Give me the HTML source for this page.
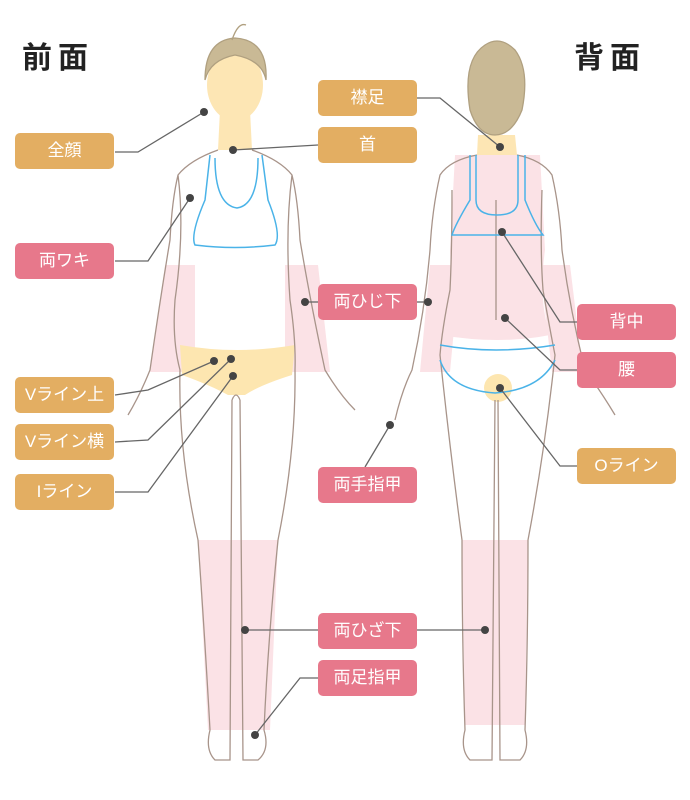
<!DOCTYPE html>
<html><head><meta charset="utf-8"><style>
html,body{margin:0;padding:0;background:#fff;}
body{width:690px;height:800px;overflow:hidden;position:relative;font-family:"Liberation Sans","Noto Sans CJK JP",sans-serif;}
.t{position:absolute;font-size:30px;font-weight:bold;color:#222;letter-spacing:6px;}
.l{position:absolute;width:99px;height:36px;border-radius:5px;color:#fff;font-size:17px;line-height:36px;text-align:center;}
.o{background:#e3ae62}.p{background:#e7788b}
svg{position:absolute;left:0;top:0}
</style></head><body>
<svg width="690" height="800" viewBox="0 0 690 800">
<g fill="none" stroke="#a8948a" stroke-width="1.3">
<!-- FRONT -->
<path d="M165,265 L195,265 L195,372 L150,372 Z" fill="#fbe2e6" stroke="none"/>
<path d="M285,265 L318,265 L330,372 L285,372 Z" fill="#fbe2e6" stroke="none"/>
<path d="M198,540 L278,540 L270,730 L208,730 Z" fill="#fbe2e6" stroke="none"/>
<path d="M180,345 Q237,355 295,345 L292,375 Q260,385 245,395 L228,395 Q210,385 182,375 Z" fill="#fde6b0" stroke="none"/>
<path d="M220,110 L250,110 L252,150 L218,150 Z" fill="#fde6b4" stroke="none"/>
<ellipse cx="235" cy="85" rx="28" ry="36" fill="#fde6b4" stroke="none"/>
<path d="M205,80 Q205,40 235,38 Q268,40 266,80 Q262,60 235,55 Q210,60 205,80 Z" fill="#c9b995" stroke="#b0a080"/>
<path d="M232,40 Q238,22 246,25" stroke="#b0a080"/>
<path d="M218,150 Q190,160 178,175 Q172,200 170,240 Q160,300 150,370 Q140,395 128,415 M178,175 Q185,230 175,300 Q172,340 180,370 Q178,450 198,540 Q205,640 210,730 Q205,750 215,760 L230,760 L232,400 M252,150 Q280,160 292,175 Q298,200 300,240 Q310,300 325,370 Q340,395 355,410 M292,175 Q285,230 290,300 Q296,340 295,370 Q296,450 278,540 Q268,640 264,730 Q270,750 258,760 L243,760 L240,400 M232,400 Q236,390 240,400"/>
<path d="M210,155 L205,200 Q190,235 195,245 Q235,250 275,245 Q282,235 268,200 L262,155 M215,158 Q215,205 237,208 Q258,205 258,158" stroke="#4ab3e8" stroke-width="1.5"/>
<!-- BACK -->
<path d="M430,265 L460,265 L450,372 L420,372 Z" fill="#fbe2e6" stroke="none"/>
<path d="M540,265 L570,265 L583,372 L552,372 Z" fill="#fbe2e6" stroke="none"/>
<path d="M455,155 L540,155 L545,250 Q538,300 550,335 Q500,345 440,335 Q452,300 450,250 Z" fill="#fbe2e6" stroke="none"/>
<path d="M462,540 L528,540 L525,725 L465,725 Z" fill="#fbe2e6" stroke="none"/>
<circle cx="498" cy="388" r="14" fill="#fde6b0" stroke="none"/>
<path d="M478,135 L515,135 L517,155 L477,155 Z" fill="#fde6b4" stroke="none"/>
<path d="M470,110 Q462,60 485,45 Q500,35 515,50 Q530,70 522,110 Q512,135 495,135 Q478,135 470,110 Z" fill="#c9b995" stroke="#b0a080"/>
<path d="M477,155 Q450,160 440,175 Q432,210 430,250 Q425,310 412,370 Q402,390 395,420 M452,190 Q452,250 450,290 Q442,330 440,355 Q450,450 462,540 Q462,640 465,730 Q460,750 470,760 L492,760 L495,400 M517,155 Q542,160 552,175 Q560,210 562,250 Q570,310 585,370 Q600,390 615,415 M542,190 Q540,250 543,290 Q550,330 555,355 Q545,450 528,540 Q528,640 525,730 Q530,750 520,760 L500,760 L498,400"/>
<path d="M496,200 L496,320"/>
<path d="M470,155 L470,200 Q455,225 452,235 L543,235 Q535,225 525,200 L525,155 M476,155 L476,200 Q476,215 497,215 Q518,215 518,200 L518,155" stroke="#4ab3e8" stroke-width="1.5"/>
<path d="M440,345 Q495,355 555,345 M440,360 Q450,390 495,393 Q540,390 555,360" stroke="#4ab3e8" stroke-width="1.5"/>
</g>
<g stroke="#666" stroke-width="1.3" fill="none">
<polyline points="115,152 138,152 204,112"/>
<polyline points="115,261 148,261 190,198"/>
<polyline points="415,98 440,98 500,147"/>
<polyline points="318,145 233,150"/>
<polyline points="318,302 305,302"/>
<polyline points="415,302 428,302"/>
<polyline points="115,395 148,390 214,361"/>
<polyline points="115,442 148,440 231,359"/>
<polyline points="115,492 148,492 233,376"/>
<polyline points="577,322 560,322 502,232"/>
<polyline points="577,370 560,370 505,318"/>
<polyline points="577,466 560,466 500,388"/>
<polyline points="365,467 390,425"/>
<polyline points="245,630 485,630"/>
<polyline points="318,678 300,678 255,735"/>
</g>
<g fill="#444">
<circle cx="204" cy="112" r="4"/><circle cx="233" cy="150" r="4"/><circle cx="190" cy="198" r="4"/>
<circle cx="500" cy="147" r="4"/><circle cx="305" cy="302" r="4"/><circle cx="428" cy="302" r="4"/>
<circle cx="214" cy="361" r="4"/><circle cx="231" cy="359" r="4"/><circle cx="233" cy="376" r="4"/>
<circle cx="502" cy="232" r="4"/><circle cx="505" cy="318" r="4"/><circle cx="500" cy="388" r="4"/>
<circle cx="390" cy="425" r="4"/><circle cx="245" cy="630" r="4"/><circle cx="485" cy="630" r="4"/><circle cx="255" cy="735" r="4"/>
</g>
</svg>
<div class="t" style="left:22px;top:33px">前面</div>
<div class="t" style="left:574px;top:33px">背面</div>
<div class="l o" style="left:15px;top:133px">全顔</div>
<div class="l p" style="left:15px;top:243px">両ワキ</div>
<div class="l o" style="left:15px;top:377px">Vライン上</div>
<div class="l o" style="left:15px;top:424px">Vライン横</div>
<div class="l o" style="left:15px;top:474px">Iライン</div>
<div class="l o" style="left:318px;top:80px">襟足</div>
<div class="l o" style="left:318px;top:127px">首</div>
<div class="l p" style="left:318px;top:284px">両ひじ下</div>
<div class="l p" style="left:318px;top:467px">両手指甲</div>
<div class="l p" style="left:318px;top:613px">両ひざ下</div>
<div class="l p" style="left:318px;top:660px">両足指甲</div>
<div class="l p" style="left:577px;top:304px">背中</div>
<div class="l p" style="left:577px;top:352px">腰</div>
<div class="l o" style="left:577px;top:448px">Oライン</div>
</body></html>
